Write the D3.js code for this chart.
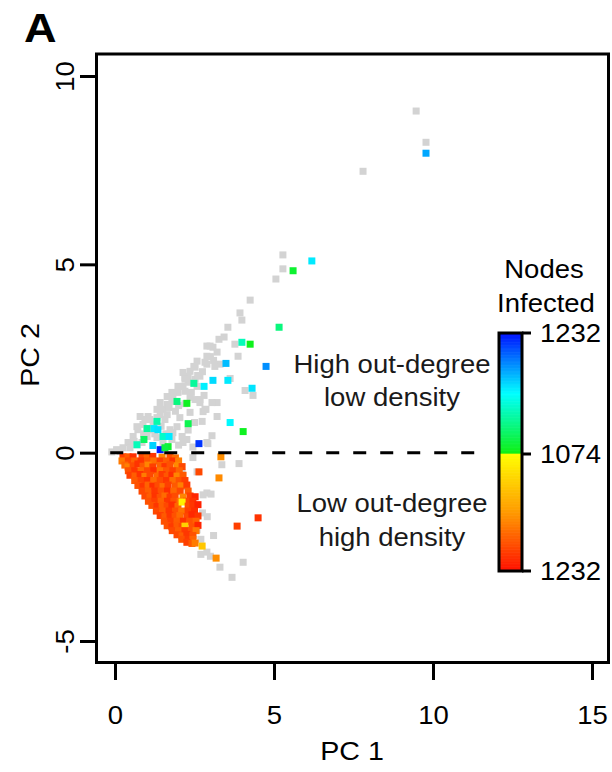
<!DOCTYPE html>
<html><head><meta charset="utf-8">
<script src="https://cdn.jsdelivr.net/npm/d3@7"></script>
<style>body{margin:0;background:#fff}text{font-family:"Liberation Sans",Arial,sans-serif}</style>
</head><body>
<svg id="c" width="612" height="772"></svg>
<script>
const xTicks = [0, 5, 10, 15];
const yTicks = [-5, 0, 5, 10];
const legendTickValues = [1232, 1074, 1232];

// gray points (no value)
const grayPts = [
[9.47,9.07],[9.78,8.24],[7.80,7.47],[5.28,5.25],[5.28,4.88],[5.06,4.61],[4.25,4.05],[3.93,3.71],[3.99,3.52],[3.55,3.33],
[3.43,3.07],[3.27,3.01],[3.77,2.88],[2.89,2.83],[3.08,2.80],[3.87,2.56],[2.58,2.43],[2.48,2.29],[2.89,2.35],[3.14,2.29],
[3.30,2.35],[2.67,2.03],[3.62,1.97],[2.14,2.13],[2.20,2.00],[2.30,1.87],[1.98,1.76],[1.79,1.60],[1.64,1.49],[4.09,1.65],
[4.34,1.52],[2.80,1.52],[2.67,1.33],[2.52,1.41],[2.36,1.47],[3.21,1.33],[2.86,1.15],[2.77,1.09],[1.42,1.33],[1.32,1.15],
[1.51,1.15],[1.64,1.01],[0.79,0.96],[0.94,0.88],[1.04,0.96],[0.69,0.69],
[2.99,2.83],[3.21,2.67],[2.89,2.56],[2.83,2.40],[2.52,2.27],[2.36,2.16],[2.30,2.03],[2.20,1.95],[2.14,1.76],[2.20,1.63],
[1.98,1.60],[1.82,1.49],[1.79,1.36],[1.64,1.28],[1.42,1.01],[1.32,0.93],[1.10,0.88],[0.88,0.75],[0.72,0.61],[0.57,0.43],
[0.41,0.27],[0.25,0.13],[0.16,0.03],[-0.10,0.02],[0.05,0.08],
[2.52,1.95],[2.58,1.76],[2.67,1.41],[2.83,1.15],[2.36,1.07],[2.04,0.93],[1.95,0.69],[1.82,0.53],[2.11,0.43],[2.26,0.35],
[1.79,0.35],[1.51,0.27],[1.32,0.40],[1.01,0.43],[0.85,0.27],[0.69,0.21],[0.47,0.13],[1.73,0.61],[1.57,0.88],[1.32,0.61],
[1.10,0.61],[3.05,1.33],[3.21,0.96],[2.89,0.27],[3.05,0.45],[2.74,0.83],
[1.20,0.75],[1.45,0.70],[1.60,0.50],[1.90,1.10],[2.00,1.25],[1.70,1.20],[2.40,1.60],[2.60,2.05],[2.75,2.15],[3.00,2.55],
[3.10,2.45],[2.20,1.30],[1.00,0.60],[0.60,0.30],[0.90,0.50],[1.25,0.50],[2.30,0.60],[2.50,0.80],[2.00,0.20],[2.45,0.15],
[2.14,0.27],[2.92,0.24],[2.45,-0.13],[3.36,-0.32],[3.90,-0.29],[2.58,-0.51],[2.11,-0.53],[2.89,-1.07],[2.77,-1.12],
[2.58,-2.05],[2.45,-2.16],[2.89,-2.64],[4.03,-2.91],[3.30,-3.04],[3.68,-3.31],[2.70,-2.30],[3.00,-2.75],
[2.20,-0.90],[2.40,-1.30],[2.90,-1.70],[3.10,-2.20],[2.70,-2.70],[1.20,-0.30],[1.00,-0.80],[0.60,-0.50],[2.75,-1.60],[3.02,-1.10]
];

// points above the line: [PC1, PC2, nodes infected]
const upperPts = [
[9.78,7.95,1182],[6.19,5.09,1160],[5.60,4.83,1085],[5.16,3.33,1110],[3.99,2.93,1130],[4.25,2.88,1078],[3.49,2.37,1175],
[4.75,2.29,1190],[2.48,1.84,1120],[2.80,1.76,1158],[3.08,1.92,1165],[3.55,1.92,1160],[4.31,1.71,1162],[1.95,1.36,1110],
[2.26,1.31,1080],[3.62,0.80,1155],[2.30,0.77,1095],[1.32,0.83,1125],[1.01,0.64,1120],[1.23,0.64,1160],[1.35,0.61,1163],
[1.51,0.43,1135],[0.91,0.35,1100],[0.69,0.21,1130],[1.70,0.43,1160],[1.19,0.19,1168],[2.64,0.24,1220],[1.42,0.08,1228],
[1.67,0.16,1085],[1.57,0.13,1090],[4.03,0.56,1080]
];

// points below the line: [PC1, PC2, nodes infected]
const lowerPts = [
[0.25,-0.11,1205],[0.41,-0.11,1190],[0.57,-0.11,1215],[0.85,-0.09,1200],[1.01,-0.12,1185],[1.19,-0.10,1212],[1.48,-0.12,1165],[1.73,-0.10,1195],[1.90,-0.14,1178],
[0.22,-0.22,1172],[0.42,-0.22,1200],[0.62,-0.22,1185],[0.82,-0.22,1210],[1.02,-0.22,1192],[1.22,-0.22,1178],[1.42,-0.22,1205],[1.62,-0.22,1188],[1.82,-0.22,1212],[2.00,-0.22,1170],
[0.31,-0.33,1182],[0.41,-0.38,1168],[0.57,-0.35,1198],[0.72,-0.30,1212],[0.88,-0.36,1190],[1.04,-0.33,1165],[1.19,-0.38,1205],[1.42,-0.34,1185],[1.57,-0.37,1210],[1.73,-0.32,1195],[1.95,-0.35,1162],[2.11,-0.37,1200],
[0.42,-0.48,1195],[0.62,-0.48,1210],[0.82,-0.48,1180],[1.02,-0.48,1200],[1.22,-0.48,1215],[1.42,-0.48,1175],[1.62,-0.48,1192],[1.82,-0.48,1205],[2.02,-0.48,1185],
[0.47,-0.60,1205],[0.63,-0.62,1188],[0.79,-0.58,1212],[0.94,-0.63,1170],[1.10,-0.60,1200],[1.32,-0.62,1182],[1.48,-0.58,1208],[1.64,-0.63,1192],[1.79,-0.60,1215],[1.95,-0.62,1165],[2.14,-0.60,1190],
[0.62,-0.74,1190],[0.82,-0.74,1202],[1.02,-0.74,1212],[1.22,-0.74,1180],[1.42,-0.74,1198],[1.62,-0.74,1210],[1.82,-0.74,1178],[2.02,-0.74,1195],[2.20,-0.74,1205],
[0.72,-0.87,1195],[0.88,-0.90,1210],[1.04,-0.86,1185],[1.19,-0.89,1215],[1.35,-0.87,1198],[1.51,-0.90,1178],[1.67,-0.86,1205],[1.89,-0.89,1190],[2.08,-0.88,1168],[2.26,-0.86,1208],
[0.85,-1.02,1200],[1.05,-1.02,1188],[1.25,-1.02,1210],[1.45,-1.02,1195],[1.65,-1.02,1215],[1.85,-1.02,1182],[2.05,-1.02,1200],[2.30,-1.02,1190],
[0.94,-1.15,1200],[1.10,-1.18,1188],[1.26,-1.16,1212],[1.42,-1.19,1195],[1.57,-1.15,1180],[1.73,-1.18,1208],[1.89,-1.16,1198],[2.14,-1.18,1165],[2.36,-1.15,1205],[2.52,-1.17,1220],
[1.05,-1.29,1195],[1.25,-1.29,1205],[1.45,-1.29,1185],[1.65,-1.29,1210],[1.85,-1.29,1195],[2.05,-1.29,1178],[2.25,-1.29,1200],[2.45,-1.29,1212],
[1.16,-1.40,1195],[1.32,-1.43,1210],[1.48,-1.40,1188],[1.64,-1.42,1200],[1.79,-1.39,1215],[1.98,-1.43,1182],[2.11,-1.31,1085],[2.30,-1.42,1198],[2.45,-1.40,1210],[2.61,-1.38,1222],
[1.30,-1.55,1200],[1.50,-1.55,1188],[1.70,-1.55,1210],[1.90,-1.55,1195],[2.10,-1.55,1175],[2.30,-1.55,1205],[2.50,-1.55,1215],
[1.42,-1.67,1205],[1.57,-1.70,1190],[1.73,-1.66,1210],[1.89,-1.69,1195],[2.04,-1.67,1180],[2.26,-1.70,1200],[2.42,-1.65,1218],[2.61,-1.68,1210],
[1.55,-1.82,1195],[1.75,-1.82,1205],[1.95,-1.82,1188],[2.15,-1.82,1212],[2.35,-1.82,1195],[2.55,-1.82,1185],
[1.64,-1.94,1195],[1.79,-1.97,1208],[1.95,-1.93,1190],[2.11,-1.96,1200],[2.20,-1.95,1110],[2.42,-1.97,1195],[2.61,-1.93,1220],
[1.80,-2.07,1200],[2.00,-2.07,1188],[2.20,-2.07,1208],[2.40,-2.07,1195],[2.55,-2.07,1172],
[1.95,-2.18,1200],[2.11,-2.21,1188],[2.26,-2.17,1210],[2.45,-2.20,1195],
[2.10,-2.30,1195],[2.30,-2.30,1208],[2.45,-2.30,1185],
[2.26,-2.38,1205],[2.42,-2.41,1190],[2.52,-2.40,1170],[2.74,-2.48,1118],
[3.33,-0.11,1160],[2.64,-0.51,1200],[3.27,-0.67,1162],[4.50,-1.73,1212],[3.84,-1.95,1205],[3.18,-2.80,1160]
];

const svg = d3.select("#c");
const x = d3.scaleLinear().domain([0, 15]).range([115, 592]);
const y = d3.scaleLinear().domain([-5, 10]).range([641, 76]);
const upperColor = d3.scaleLinear().domain([1074, 1153, 1232]).range(["#10f010", "#00ffff", "#0010ff"]);
const lowerColor = d3.scaleLinear().domain([1074, 1153, 1232]).range(["#ffff00", "#ff9a00", "#ff1000"]);
const S = 7;
const SX = 1.1; // horizontal stretch of text as in reference

// points
svg.append("g").selectAll("rect").data(grayPts).join("rect")
  .attr("x", d => x(d[0]) - S/2).attr("y", d => y(d[1]) - S/2)
  .attr("width", S).attr("height", S).attr("fill", "#d3d3d3");
svg.append("g").selectAll("rect").data(lowerPts).join("rect")
  .attr("x", d => x(d[0]) - S/2).attr("y", d => y(d[1]) - S/2)
  .attr("width", S).attr("height", S).attr("fill", d => lowerColor(d[2]));
svg.append("g").selectAll("rect").data(upperPts).join("rect")
  .attr("x", d => x(d[0]) - S/2).attr("y", d => y(d[1]) - S/2)
  .attr("width", S).attr("height", S).attr("fill", d => upperColor(d[2]));

// dashed zero line
svg.append("line").attr("x1", x(-0.15)).attr("x2", x(11.55)).attr("y1", y(0)).attr("y2", y(0))
  .attr("stroke", "#000").attr("stroke-width", 3).attr("stroke-dasharray", "13,14");

// box
svg.append("rect").attr("x", 96.5).attr("y", 54).attr("width", 512).attr("height", 608.5)
  .attr("fill", "none").attr("stroke", "#000").attr("stroke-width", 3);

// axes
const fmt = d => String(d);
const xa = svg.append("g").attr("transform", "translate(0,662)")
  .call(d3.axisBottom(x).tickValues(xTicks).tickFormat(fmt).tickSize(18).tickSizeOuter(0).tickPadding(26));
xa.select(".domain").remove();
xa.selectAll("line").attr("stroke-width", 3);
xa.selectAll("text").attr("font-size", 25).attr("fill", "#000")
  .style("font-family", '"Liberation Sans",Arial,sans-serif')
  .attr("transform", `scale(${SX},1)`);

const ya = svg.append("g").attr("transform", "translate(96,0)")
  .call(d3.axisLeft(y).tickValues(yTicks).tickFormat(fmt).tickSize(16).tickSizeOuter(0).tickPadding(0));
ya.select(".domain").remove();
ya.selectAll("line").attr("stroke-width", 3);
ya.selectAll(".tick text").attr("font-size", 25).attr("fill", "#000")
  .style("font-family", '"Liberation Sans",Arial,sans-serif')
  .attr("text-anchor", "middle").attr("dy", null).attr("x", 0).attr("y", 0)
  .attr("dominant-baseline", "central")
  .attr("transform", `translate(-31,0) rotate(-90) scale(${SX},1)`);

function label(px, py, txt, size, opts = {}) {
  const t = svg.append("text")
    .attr("transform", `translate(${px},${py}) ${opts.rotate ? "rotate(-90)" : ""} scale(${SX},1)`)
    .attr("text-anchor", opts.anchor || "middle").attr("font-size", size)
    .attr("fill", opts.fill || "#000").text(txt);
  if (opts.bold) t.attr("font-weight", "bold");
  return t;
}

// axis titles
label(352, 760, "PC 1", 26);
label(39, 355, "PC 2", 26, {rotate: true});
label(24, 42, "A", 41, {anchor: "start", bold: true});

// annotations
const ann = [["High out-degree", 373], ["low density", 406], ["Low out-degree", 512], ["high density", 546]];
ann.forEach(d => label(392, d[1], d[0], 25, {fill: "#1a1a1a"}));

// color bar
const legTop = d3.scaleLinear().domain([1074, 1232]).range([454, 333]);
const legBot = d3.scaleLinear().domain([1074, 1232]).range([454, 571]);
const steps = d3.range(1074, 1232, 1);
const bar = svg.append("g");
bar.selectAll("rect.t").data(steps).join("rect").attr("class", "t")
  .attr("x", 499).attr("width", 23).attr("y", d => legTop(d + 1)).attr("height", legTop(1074) - legTop(1075) + 0.6)
  .attr("fill", d => upperColor(d));
bar.selectAll("rect.b").data(steps).join("rect").attr("class", "b")
  .attr("x", 499).attr("width", 23).attr("y", d => legBot(d) - 0.3).attr("height", legBot(1075) - legBot(1074) + 0.6)
  .attr("fill", d => lowerColor(d));
bar.append("rect").attr("x", 499).attr("y", 333).attr("width", 23).attr("height", 238)
  .attr("fill", "none").attr("stroke", "#000").attr("stroke-width", 3);
const legPos = [legTop(legendTickValues[0]), legTop(legendTickValues[1]), legBot(legendTickValues[2])];
bar.selectAll("line").data(legendTickValues).join("line")
  .attr("x1", 522).attr("x2", 531).attr("y1", (d, i) => legPos[i]).attr("y2", (d, i) => legPos[i])
  .attr("stroke", "#000").attr("stroke-width", 3);
legendTickValues.forEach((d, i) => label(540, legPos[i] + 9, String(d), 25, {anchor: "start"}));
label(544, 278, "Nodes", 25);
label(546, 312, "Infected", 25);
</script>
</body></html>
